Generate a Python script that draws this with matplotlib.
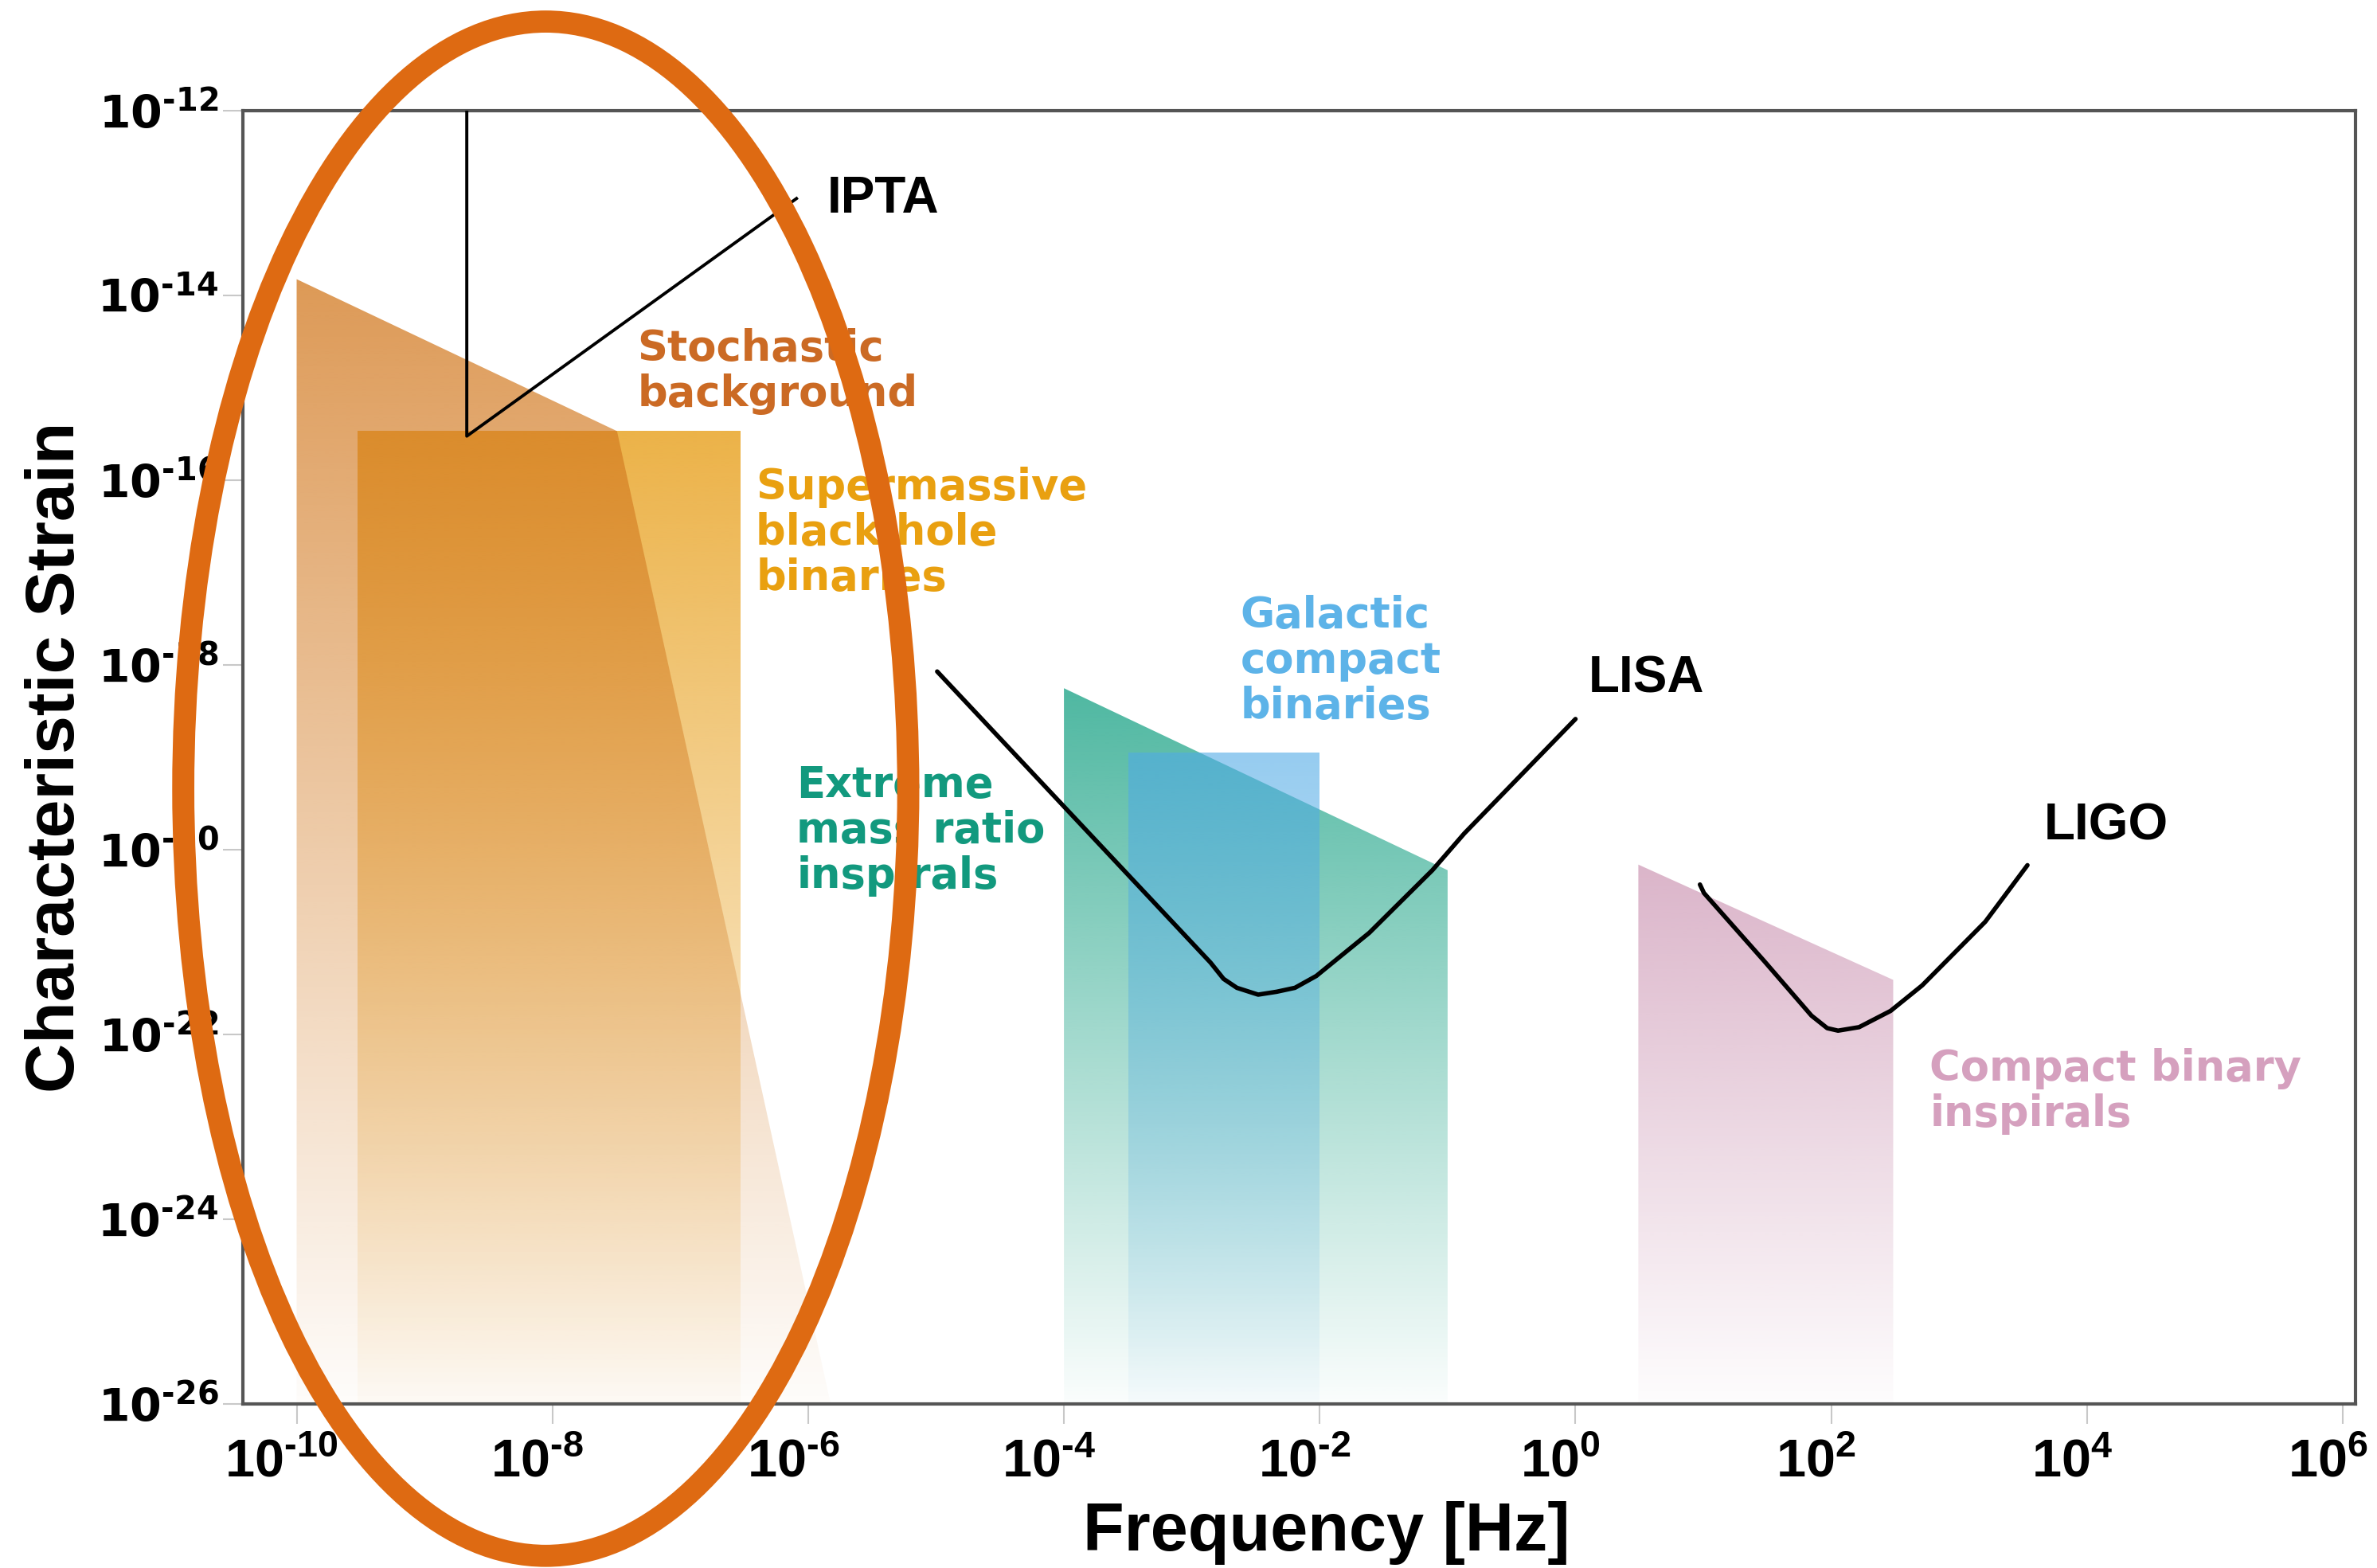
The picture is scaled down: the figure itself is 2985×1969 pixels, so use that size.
import matplotlib
matplotlib.use('Agg')
import matplotlib.pyplot as plt
import matplotlib.transforms as mtransforms
import numpy as np
from matplotlib.patches import Polygon, Ellipse

# ==============================================================
# data
YMIN, YMAX = 1e-26, 1e-12
XMIN, XMAX = 10**-10.42, 10**6.1

xticks = [1e-10, 1e-8, 1e-6, 1e-4, 1e-2, 1e0, 1e2, 1e4, 1e6]
xtick_exp = ['\u201010', '\u20108', '\u20106', '\u20104', '\u20102', '0', '2', '4', '6']
yticks = [1e-12, 1e-14, 1e-16, 1e-18, 1e-20, 1e-22, 1e-24, 1e-26]
ytick_exp = ['\u201012', '\u201014', '\u201016', '\u201018', '\u201020',
             '\u201022', '\u201024', '\u201026']

# source regions (polygons, bottom at 1e-26)
stoch_f = [1e-10, 3.2e-8, 1.5e-6, 1e-10]
stoch_h = [1.5e-14, 3.4e-16, 1e-26, 1e-26]
smbh_f = [3.0e-10, 2.95e-7, 2.95e-7, 3.0e-10]
smbh_h = [3.4e-16, 3.4e-16, 1e-26, 1e-26]
emri_f = [1e-4, 1e-1, 1e-1, 1e-4]
emri_h = [5.6e-19, 6.0e-21, 1e-26, 1e-26]
gcb_f = [3.2e-4, 1e-2, 1e-2, 3.2e-4]
gcb_h = [1.12e-19, 1.12e-19, 1e-26, 1e-26]
cbi_f = [3.1, 305, 305, 3.1]
cbi_h = [6.9e-21, 3.9e-22, 1e-26, 1e-26]

# detector curves
ipta_f = [2.14e-9, 2.14e-9, 8.1e-7]
ipta_h = [1e-11, 3.0e-16, 1.12e-13]
lisa_f = [1.02e-5, 1.4e-3, 1.77e-3, 2.25e-3, 3.3e-3, 4.6e-3, 6.4e-3, 9.4e-3,
          2.44e-2, 7.6e-2, 0.135, 1.0]
lisa_h = [8.5e-19, 6.0e-22, 4.0e-22, 3.2e-22, 2.7e-22, 2.9e-22, 3.2e-22, 4.3e-22,
          1.26e-21, 6.0e-21, 1.5e-20, 2.6e-19]
ligo_f = [9.4, 10.1, 30, 70, 93, 113, 165, 291, 514, 1600, 3420]
ligo_h = [4.2e-21, 3.4e-21, 6.2e-22, 1.6e-22, 1.17e-22, 1.1e-22, 1.2e-22, 1.8e-22,
          3.4e-22, 1.66e-21, 6.8e-21]

# ==============================================================
fig = plt.figure(figsize=(29.85, 19.69), dpi=100)
ax = fig.add_axes([0.1022, 0.1046, 0.991 - 0.1022, 0.9294 - 0.1046])
ax.set_xscale('log')
ax.set_yscale('log')
ax.set_xlim(XMIN, XMAX)
ax.set_ylim(YMIN, YMAX)
ax.set_autoscale_on(False)


def gradient_fill(xs, ys, rgb, a_top, a_bot, zorder):
    poly = Polygon(np.column_stack([xs, ys]), closed=True,
                   facecolor='none', edgecolor='none')
    ax.add_patch(poly)
    ftop = (np.log10(max(ys)) - np.log10(YMIN)) / (np.log10(YMAX) - np.log10(YMIN))
    n = 256
    img = np.zeros((n, 2, 4))
    img[..., 0] = rgb[0] / 255
    img[..., 1] = rgb[1] / 255
    img[..., 2] = rgb[2] / 255
    img[..., 3] = np.linspace(a_top, a_bot, n)[:, None]
    im = ax.imshow(img, extent=[0, 1, 0, ftop], transform=ax.transAxes,
                   aspect='auto', origin='upper', zorder=zorder,
                   interpolation='bilinear')
    im.set_clip_path(poly)


gradient_fill(smbh_f, smbh_h, (233, 165, 40), 0.85, 0.03, 1)
gradient_fill(stoch_f, stoch_h, (210, 120, 30), 0.75, 0.02, 2)
gradient_fill(emri_f, emri_h, (20, 160, 130), 0.75, 0.02, 1)
gradient_fill(gcb_f, gcb_h, (80, 170, 230), 0.6, 0.03, 2)
gradient_fill(cbi_f, cbi_h, (190, 120, 158), 0.55, 0.02, 1)

# detector sensitivity curves
ax.plot(ipta_f, ipta_h, color='black', linewidth=2.8, zorder=5)
ax.plot(lisa_f, lisa_h, color='black', linewidth=4.0, zorder=5,
        solid_joinstyle='round', solid_capstyle='round')
ax.plot(ligo_f, ligo_h, color='black', linewidth=4.0, zorder=5,
        solid_joinstyle='round', solid_capstyle='round')

# labels
lab_font = dict(family='DejaVu Sans', fontweight='bold', fontsize=38,
                linespacing=1.12, va='center', ha='left', zorder=6)
ax.text(4.6e-8, 1.5e-15, 'Stochastic\nbackground', color='#CB6A24', **lab_font)
ax.text(3.9e-7, 2.7e-17, 'Supermassive\nblack hole\nbinaries', color='#E9A010', **lab_font)
ax.text(8.1e-7, 1.6e-20, 'Extreme\nmass ratio\ninspirals', color='#12997E', **lab_font)
ax.text(2.4e-3, 1.1e-18, 'Galactic\ncompact\nbinaries', color='#5DB3E8', **lab_font)
ax.text(5.9e2, 2.4e-23, 'Compact binary\ninspirals', color='#D5A0BE', **lab_font)

det_font = dict(family='Liberation Sans', fontweight='bold', fontsize=46,
                va='center', ha='left', color='black', zorder=6)
ax.text(1.4e-6, 1.1e-13, 'IPTA', **det_font)
ax.text(1.26, 7.1e-19, 'LISA', **det_font)
ax.text(4.6e3, 1.8e-20, 'LIGO', **det_font)

# axes styling
ax.minorticks_off()
ax.set_xticks(xticks)
ax.set_xticklabels([r'$\mathregular{10^{%s}}$' % e for e in xtick_exp],
                   fontfamily='Liberation Sans', fontweight='bold', fontsize=48)
ax.set_yticks(yticks)
ax.set_yticklabels([r'$\mathregular{10^{%s}}$' % e for e in ytick_exp],
                   fontfamily='DejaVu Sans', fontweight='bold', fontsize=41)
ax.tick_params(axis='both', direction='out', length=18, width=1.5,
               color='#c8c8c8')
ax.tick_params(axis='x', pad=13)
ax.tick_params(axis='y', pad=4)
# x tick labels sit slightly left of their ticks in the reference
shift = mtransforms.ScaledTranslation(-0.19, 0, fig.dpi_scale_trans)
for lbl in ax.get_xticklabels():
    lbl.set_transform(lbl.get_transform() + shift)

for sp in ax.spines.values():
    sp.set_color('#555555')
    sp.set_linewidth(3)

ax.set_xlabel('Frequency [Hz]', fontfamily='Liberation Sans', fontweight='bold',
              fontsize=61, labelpad=12)
ax.xaxis.label.set_x(0.513)
ax.set_ylabel('Characteristic Strain', fontfamily='Liberation Sans',
              fontweight='bold', fontsize=62, labelpad=8)

# orange highlight ellipse
ell = Ellipse((0.2296, 0.497), 0.305, 0.9785, transform=fig.transFigure,
              fill=False, edgecolor='#DE6A12', linewidth=20, zorder=20,
              clip_on=False)
fig.patches.append(ell)

fig.savefig('out.png', dpi=100, facecolor='white')
